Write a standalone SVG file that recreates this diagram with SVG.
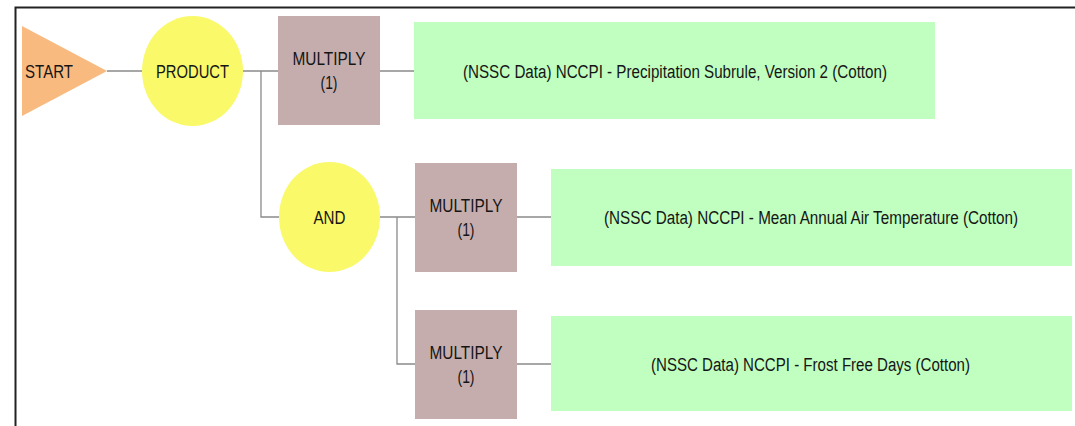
<svg xmlns="http://www.w3.org/2000/svg" width="1075" height="426" viewBox="0 0 1075 426">
<style>
text{font-family:"Liberation Sans",Arial,sans-serif;font-size:18px;fill:#151515;text-anchor:middle}
.c{fill:none;stroke:#8a8a8a;stroke-width:1.3}
.start{fill:#F9BA80}
.op{fill:#F9F96A}
.mul{fill:#C5ADAD}
.leaf{fill:#C0FFC0}
</style>
<rect width="1075" height="426" fill="#fff"/>
<path d="M15.5 426 V7.5 H1075" fill="none" stroke="#222" stroke-width="2"/>
<g id="connectors">
<path class="c" d="M107 71 H142"/>
<path class="c" d="M243 71 H278"/>
<path class="c" d="M261 71 V217 H279"/>
<path class="c" d="M380 71 H414"/>
<path class="c" d="M380 217 H415"/>
<path class="c" d="M397 217 V364 H415"/>
<path class="c" d="M517 217 H551"/>
<path class="c" d="M517 364 H551"/>
</g>
<g id="start"><polygon class="start" points="22,26 22,116 107,71"/><text x="49" y="77.5" textLength="48" lengthAdjust="spacingAndGlyphs">START</text></g>
<g id="product"><ellipse class="op" cx="192.5" cy="71" rx="50.5" ry="55"/><text x="192.5" y="77.5" textLength="73" lengthAdjust="spacingAndGlyphs">PRODUCT</text></g>
<g id="multiply1"><rect class="mul" x="278" y="16" width="102" height="109"/><text x="329" y="65" textLength="73" lengthAdjust="spacingAndGlyphs">MULTIPLY</text><text x="329" y="88.5" textLength="17" lengthAdjust="spacingAndGlyphs">(1)</text></g>
<g id="leaf1"><rect class="leaf" x="414" y="22" width="521" height="97"/><text x="675" y="78" textLength="424" lengthAdjust="spacingAndGlyphs">(NSSC Data) NCCPI - Precipitation Subrule, Version 2 (Cotton)</text></g>
<g id="and"><ellipse class="op" cx="329.5" cy="217" rx="50.5" ry="55"/><text x="329.5" y="223.5" textLength="32" lengthAdjust="spacingAndGlyphs">AND</text></g>
<g id="multiply2"><rect class="mul" x="415" y="163" width="102" height="109"/><text x="466" y="212" textLength="73" lengthAdjust="spacingAndGlyphs">MULTIPLY</text><text x="466" y="235.5" textLength="17" lengthAdjust="spacingAndGlyphs">(1)</text></g>
<g id="leaf2"><rect class="leaf" x="551" y="169" width="521" height="97"/><text x="811" y="224" textLength="414" lengthAdjust="spacingAndGlyphs">(NSSC Data) NCCPI - Mean Annual Air Temperature (Cotton)</text></g>
<g id="multiply3"><rect class="mul" x="415" y="310" width="102" height="109"/><text x="466" y="359" textLength="73" lengthAdjust="spacingAndGlyphs">MULTIPLY</text><text x="466" y="382.5" textLength="17" lengthAdjust="spacingAndGlyphs">(1)</text></g>
<g id="leaf3"><rect class="leaf" x="551" y="316" width="521" height="95"/><text x="810.5" y="371" textLength="319" lengthAdjust="spacingAndGlyphs">(NSSC Data) NCCPI - Frost Free Days (Cotton)</text></g>
</svg>
